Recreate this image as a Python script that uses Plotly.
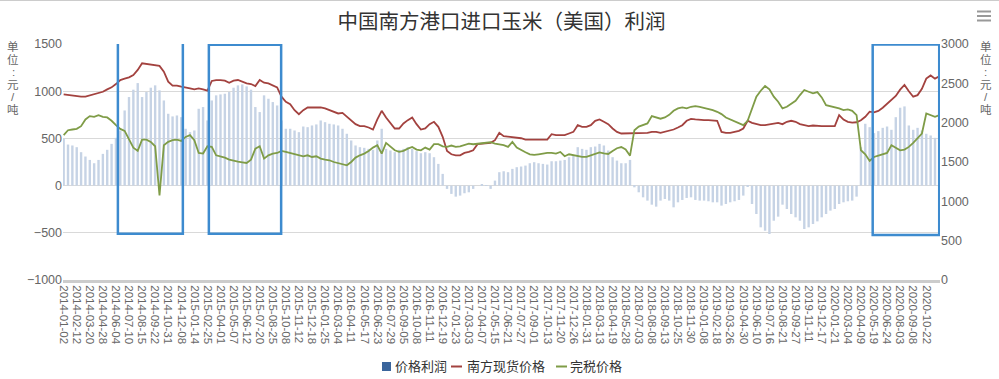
import plotly.graph_objects as go

# ---------------- data ----------------
tick_labels = [
    "2014-01-02", "2014-02-12", "2014-03-20", "2014-04-28", "2014-06-04", "2014-07-10",
    "2014-08-15", "2014-09-22", "2014-10-31", "2014-12-08", "2015-01-14", "2015-02-25",
    "2015-04-01", "2015-05-07", "2015-06-12", "2015-07-20", "2015-08-25", "2015-10-08",
    "2015-11-12", "2015-12-18", "2016-01-25", "2016-03-04", "2016-04-11", "2016-05-17",
    "2016-06-23", "2016-07-29", "2016-09-05", "2016-10-08", "2016-11-11", "2016-12-19",
    "2017-01-23", "2017-03-03", "2017-04-07", "2017-05-15", "2017-06-21", "2017-07-27",
    "2017-09-01", "2017-10-13", "2017-11-20", "2017-12-26", "2018-01-31", "2018-03-13",
    "2018-04-19", "2018-05-28", "2018-07-03", "2018-08-08", "2018-09-13", "2018-10-25",
    "2018-11-30", "2019-01-08", "2019-02-18", "2019-03-26", "2019-04-30", "2019-06-10",
    "2019-07-16", "2019-08-21", "2019-09-27", "2019-11-11", "2019-12-17", "2020-01-21",
    "2020-03-04", "2020-04-09", "2020-05-19", "2020-06-24", "2020-08-03", "2020-09-08",
    "2020-10-22",
]

series_names = ["价格利润", "南方现货价格", "完税价格"]

# 价格利润 (left axis, yuan/t), sampled 3 times per labelled interval
profit = [
    495, 435, 425, 407, 354, 308, 272, 237, 272, 336,
    379, 442, 506, 584, 796, 938, 1016, 1086, 938, 991,
    1037, 1062, 1009, 902, 761, 733, 743, 725, 602, 566,
    584, 814, 832, 690, 902, 956, 966, 973, 991, 1037,
    1062, 1072, 1051, 1016, 832, 779, 956, 920, 885, 849,
    690, 602, 602, 584, 566, 626, 619, 637, 648, 690,
    672, 655, 648, 637,
    602, 549, 478, 425, 407, 400, 389, 379, 478, 602,
    389, 372, 354, 379, 389, 407, 389, 365, 343, 354,
    343, 301, 230, 124, -35, -88, -117, -106, -81, -71,
    -35, 0, 11, -4, -35, 53, 142, 152, 142, 177,
    195, 202, 212, 237, 248, 237, 230, 223, 258, 258,
    265, 272, 301, 318, 407, 389, 379, 407, 414, 442,
    425, 372, 301, 265, 237, 237, 272, -18, -71, -124,
    -159, -202, -223, -159, -142, -159,
    -230, -177, -152, -131, -124, -152, -159, -159, -166, -177,
    -177, -212, -195, -177, -166, -152, -106, -11, -195, -301,
    -442, -478, -513, -372, -329, -202, -248, -301, -336, -372,
    -460, -442, -407, -379, -336, -301, -265, -248, -195, -177,
    -166, -159, -117, 407, 655, 619, 556, 577, 612, 626,
    591, 725, 825, 839, 637, 591, 612, 584, 549, 531,
    506, 478,
]

# 南方现货价格 (right axis)
spot_price = [
    2359, 2351, 2343, 2334, 2330, 2330, 2347, 2359, 2372, 2393,
    2423, 2449, 2491, 2542, 2559, 2576, 2606, 2670, 2755, 2747,
    2734, 2734, 2721, 2649, 2521, 2470, 2470, 2457, 2449, 2436,
    2423, 2436, 2423, 2406, 2530, 2542, 2542, 2534, 2508, 2534,
    2542, 2521, 2500, 2491, 2466, 2542, 2508, 2500, 2479, 2449,
    2330, 2266, 2236, 2159, 2108, 2159, 2193, 2193, 2202, 2193,
    2181, 2159, 2138, 2117,
    2125, 2075, 2024, 1981, 1956, 1956, 1939, 1913, 2041, 2151,
    2066, 1998, 1926, 1926, 1990, 2032, 2066, 1981, 1913, 1926,
    1981, 2011, 1947, 1820, 1641, 1598, 1585, 1585, 1615, 1628,
    1649, 1726, 1734, 1734, 1743, 1777, 1870, 1828, 1820, 1811,
    1811, 1802, 1785, 1785, 1785, 1785, 1785, 1785, 1853, 1841,
    1841, 1841, 1862, 1883, 1968, 1947, 1947, 1968, 2024, 2041,
    2011, 1981, 1926, 1883, 1862, 1862, 1862, 1870, 1870, 1870,
    1870, 1883, 1883, 1870, 1883, 1896,
    1913, 1938, 1968, 2024, 2049, 2041, 2032, 2032, 2032, 2032,
    2024, 1883, 1870, 1870, 1879, 1896, 1926, 2024, 1998, 1981,
    1968, 1968, 1981, 1989, 1998, 1981, 2011, 2024, 2011, 1981,
    1964, 1956, 1964, 1956, 1956, 1956, 1956, 1956, 2096, 2040,
    2010, 2000, 2005, 2030, 2075, 2140, 2130, 2150, 2190, 2240,
    2290, 2340, 2420, 2480, 2400, 2330, 2350, 2430, 2560, 2600,
    2560, 2590,
]

# 完税价格 (right axis)
duty_paid_price = [
    1841, 1904, 1913, 1921, 1955, 2041, 2083, 2075, 2096, 2075,
    2066, 2024, 1968, 1921, 1896, 1785, 1683, 1641, 1785, 1785,
    1756, 1700, 1074, 1713, 1756, 1777, 1785, 1768, 1819, 1841,
    1777, 1615, 1607, 1700, 1692, 1585, 1573, 1556, 1530, 1513,
    1505, 1496, 1488, 1530, 1670, 1700, 1543, 1585, 1607, 1615,
    1641, 1628, 1615, 1598, 1585, 1573, 1585, 1564, 1573, 1543,
    1530, 1522, 1500, 1488,
    1479, 1458, 1500, 1556, 1585, 1607, 1641, 1683, 1713, 1607,
    1743, 1692, 1649, 1628, 1641, 1670, 1692, 1658, 1649, 1683,
    1658, 1726, 1726, 1700, 1692, 1709, 1692, 1700, 1717, 1734,
    1726, 1734, 1743, 1743, 1751, 1734, 1726, 1713, 1692, 1756,
    1683, 1649, 1624, 1598, 1590, 1598, 1607, 1615, 1615, 1607,
    1628, 1573, 1598, 1585, 1573, 1564, 1564, 1581, 1598, 1623,
    1610, 1602, 1640, 1675, 1690, 1660, 1580, 1904, 1950, 1970,
    1990, 2083, 2066, 2050, 2066, 2100,
    2151, 2181, 2193, 2181, 2202, 2210, 2202, 2189, 2176, 2159,
    2138, 2109, 2066, 2041, 2015, 1989, 1968, 2024, 2168, 2330,
    2406, 2466, 2423, 2330, 2266, 2181, 2202, 2236, 2278, 2351,
    2415, 2393, 2372, 2389, 2321, 2223, 2210, 2202, 2181, 2159,
    2168, 2151, 2096, 1649, 1598, 1513, 1564, 1581, 1598, 1615,
    1713, 1683, 1649, 1658, 1692, 1743, 1798, 1862, 2117, 2096,
    2075, 2096,
]

SAMPLES_PER_LABEL = 3
x_idx = [i / SAMPLES_PER_LABEL for i in range(len(profit))]

# highlighted periods (x in label-index units, y in left-axis units)
highlight_boxes = [
    (4.15, 9.12, -511, 1512),
    (11.11, 16.64, -511, 1491),
    (61.9, 66.99, -522, 1496),
]

# ---------------- figure ----------------
FONT = "Liberation Sans, Arial, Noto Sans CJK SC, sans-serif"
W, H = 999, 379
ML, MR, MT, MB = 63, 59, 44, 99
PW, PH = W - ML - MR, H - MT - MB


def px(xp):
    return (xp - ML) / PW


def py(yp):
    return (H - MB - yp) / PH


BAR_LEGEND = "#3a659c"
RED = "#A3423F"
GREEN = "#7F9C47"

fig = go.Figure()
fig.add_trace(go.Bar(
    x=x_idx, y=profit, name=series_names[0], yaxis="y",
    marker=dict(color="#c6d3e5", line=dict(width=0)), showlegend=False,
))
fig.add_trace(go.Scatter(
    x=x_idx, y=spot_price, name=series_names[1], yaxis="y2", mode="lines",
    line=dict(color=RED, width=1.8), showlegend=False,
))
fig.add_trace(go.Scatter(
    x=x_idx, y=duty_paid_price, name=series_names[2], yaxis="y2", mode="lines",
    line=dict(color=GREEN, width=1.8), showlegend=False,
))

shapes = []
annotations = []
for x0, x1, y0, y1 in highlight_boxes:
    shapes.append(dict(type="rect", xref="x", yref="y", x0=x0, x1=x1, y0=y0, y1=y1,
                       line=dict(color="#3d8bcf", width=2.5), fillcolor="rgba(0,0,0,0)",
                       layer="above"))
# export menu icon
for yy in (11.5, 16, 20.5):
    shapes.append(dict(type="line", xref="paper", yref="paper",
                       x0=px(977), x1=px(991), y0=py(yy), y1=py(yy),
                       line=dict(color="#999999", width=2)))
# top border
shapes.append(dict(type="line", xref="paper", yref="paper",
                   x0=px(0), x1=px(W), y0=py(0.5), y1=py(0.5),
                   line=dict(color="#cccccc", width=1)))

# legend (compact, Highcharts style)
LEG_Y = 366.5
shapes.append(dict(type="rect", xref="paper", yref="paper",
                   x0=px(382), x1=px(391), y0=py(LEG_Y - 4.5), y1=py(LEG_Y + 4.5),
                   line=dict(width=0), fillcolor=BAR_LEGEND))
shapes.append(dict(type="line", xref="paper", yref="paper",
                   x0=px(451), x1=px(462), y0=py(LEG_Y), y1=py(LEG_Y),
                   line=dict(color=RED, width=2)))
shapes.append(dict(type="line", xref="paper", yref="paper",
                   x0=px(556), x1=px(567), y0=py(LEG_Y), y1=py(LEG_Y),
                   line=dict(color=GREEN, width=2)))
for name, xl in zip(series_names, (394, 466, 569)):
    annotations.append(dict(text=name, xref="paper", yref="paper",
                            x=px(xl), y=py(LEG_Y), xanchor="left", yanchor="middle",
                            showarrow=False, borderpad=0,
                            font=dict(size=13, color="#333333", family=FONT)))

unit_chars = [("单", 47, 11.5), ("位", 59.5, 11.5), (":", 72, 11.5), ("元", 84.5, 11.5),
              ("/", 97, 11.5), ("吨", 109.5, 11.5)]
for xc in (13, 986):
    for ch, yc, fs in unit_chars:
        annotations.append(dict(text=ch, xref="paper", yref="paper",
                                x=px(xc), y=py(yc), xanchor="center", yanchor="middle",
                                showarrow=False, borderpad=0,
                                font=dict(size=fs, color="#666666", family=FONT)))

fig.update_layout(
    width=W, height=H,
    margin=dict(l=ML, r=MR, t=MT, b=MB, autoexpand=False),
    paper_bgcolor="white", plot_bgcolor="white",
    font=dict(family=FONT, color="#666666"),
    title=dict(text="中国南方港口进口玉米（美国）利润", x=0.5, xref="paper",
               xanchor="center", y=1 - 22 / H, yanchor="middle",
               font=dict(size=20.5, color="#333333", family=FONT)),
    bargap=0.45,
    showlegend=False,
    xaxis=dict(range=[-0.05, 67.05], tickmode="array",
               tickvals=list(range(len(tick_labels))), ticktext=tick_labels,
               tickangle=90, tickfont=dict(size=11.5, color="#666666"),
               showgrid=False, zeroline=False, showline=True, automargin=False,
               linecolor="#cccccc", linewidth=3, ticks=""),
    yaxis=dict(range=[-1000, 1500], tickvals=[-1000, -500, 0, 500, 1000, 1500],
               showgrid=True, gridcolor="#d9d9d9", gridwidth=1, zeroline=False,
               automargin=False, tickfont=dict(size=12.5, color="#666666")),
    yaxis2=dict(range=[0, 3000], dtick=500, overlaying="y", side="right",
                showgrid=False, zeroline=False, automargin=False,
                tickfont=dict(size=12.5, color="#666666")),
    shapes=shapes,
    annotations=annotations,
    hovermode=False,
)

fig.write_html("out.html", config={"displayModeBar": False},
               post_script="document.body.style.margin='0px';")
